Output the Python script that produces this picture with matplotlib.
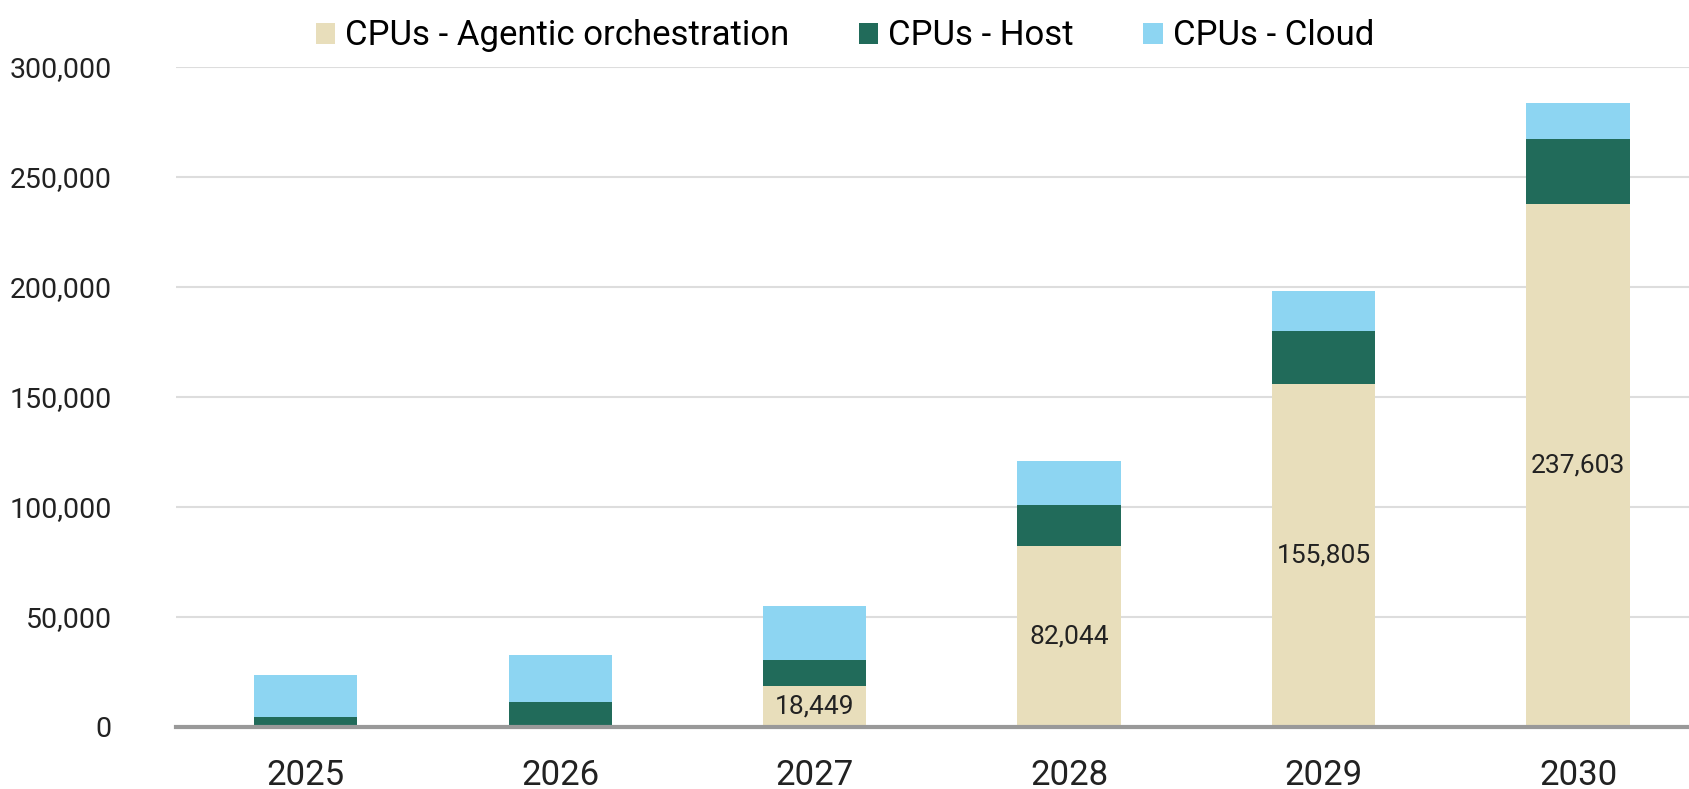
import matplotlib
matplotlib.use("Agg")
import matplotlib.pyplot as plt
import numpy as np

years = ["2025", "2026", "2027", "2028", "2029", "2030"]
agentic = [0, 0, 18449, 82044, 155805, 237603]
host = [4500, 11200, 12200, 18900, 24200, 29700]
cloud = [19300, 21500, 24500, 20100, 18300, 16200]
labeled = [False, False, True, True, True, True]

plt.rcParams["font.family"] = ["Roboto", "DejaVu Sans"]

fig = plt.figure(figsize=(16.9, 7.89), dpi=100)
ax = fig.add_axes([0.104, 0.0786, 0.896, 0.8366])

x = np.arange(len(years))
w = 0.405
c_agentic = "#E8DEBB"
c_host = "#216B5A"
c_cloud = "#8DD5F2"

agentic = np.array(agentic)
host = np.array(host)
cloud = np.array(cloud)

ax.bar(x, agentic, w, color=c_agentic, label="CPUs - Agentic orchestration", zorder=3)
ax.bar(x, host, w, bottom=agentic, color=c_host, label="CPUs - Host", zorder=3)
ax.bar(x, cloud, w, bottom=agentic + host, color=c_cloud, label="CPUs - Cloud", zorder=3)

for xi, v, show in zip(x, agentic, labeled):
    if show:
        ax.text(xi, v / 2, f"{v:,}", ha="center", va="center", fontsize=19,
                color="#222222", zorder=4)

ax.set_xlim(-0.51, 5.44)
ax.set_ylim(0, 300000)
ax.set_yticks(np.arange(0, 300001, 50000))
ax.yaxis.set_major_formatter(matplotlib.ticker.FuncFormatter(lambda v, p: f"{int(v):,}"))
ax.set_xticks(x)
ax.set_xticklabels(years)
ax.tick_params(axis="both", length=0, colors="#222222")
ax.tick_params(axis="y", pad=46, labelsize=20.5)
ax.tick_params(axis="x", pad=23, labelsize=25)

ax.grid(axis="y", color="#DDDDDD", linewidth=1.5, zorder=0)
for s in ["top", "right", "left"]:
    ax.spines[s].set_visible(False)
ax.spines["bottom"].set_color("#999999")
ax.spines["bottom"].set_linewidth(3)
ax.spines["bottom"].set_zorder(5)

fig.legend(loc="upper center", bbox_to_anchor=(0.5, 1.015), ncol=3, frameon=False,
           fontsize=25, handlelength=0.55, handleheight=0.55, handletextpad=0.3,
           columnspacing=2.0)

fig.savefig("out.png", dpi=100, facecolor="white")
